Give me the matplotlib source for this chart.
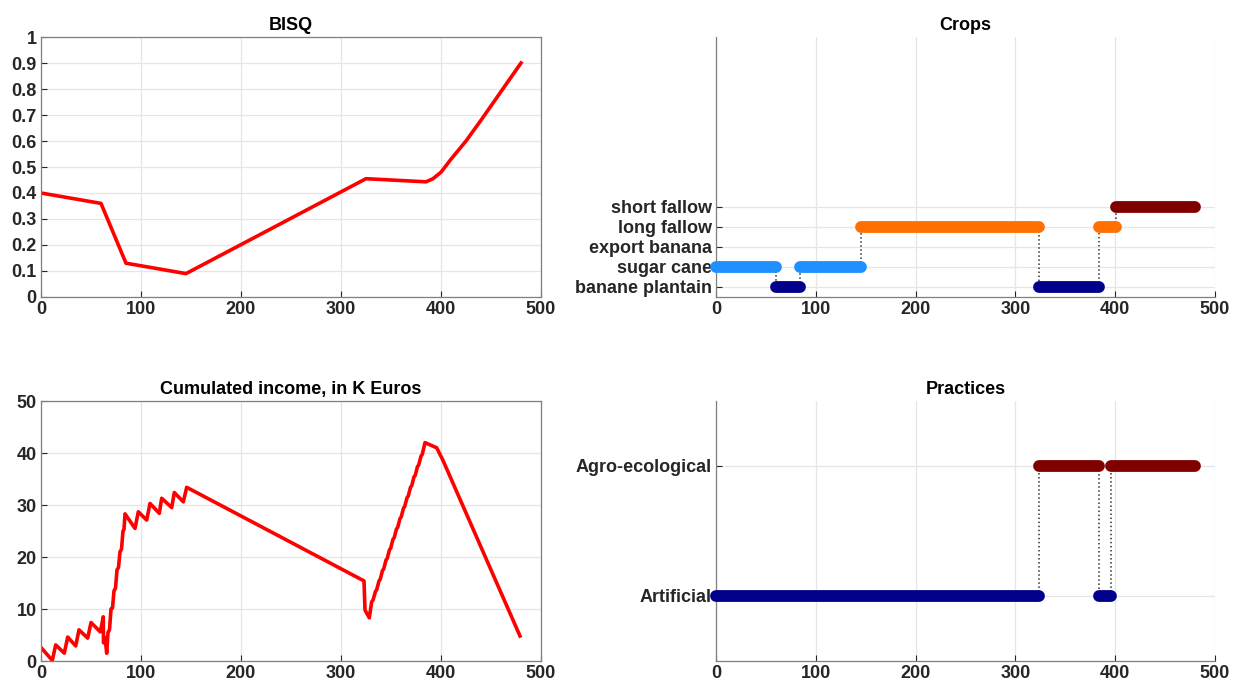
import matplotlib
matplotlib.use("Agg")
from matplotlib import pyplot as plt

plt.rcParams['font.family'] = ['Liberation Sans', 'DejaVu Sans']

# BISQ indicator over time
bisq_t = [0, 60, 85, 145, 325, 385, 392, 400, 410, 425, 440, 460, 480]
bisq_v = [0.40, 0.36, 0.13, 0.09, 0.455, 0.443, 0.455, 0.48, 0.53, 0.60, 0.68, 0.79, 0.90]

# cumulated income (K Euros)
income_t = [0, 11.3, 14.7, 23.3, 26.7, 34.7, 38, 46.7, 50, 59.3, 62.3, 62.5, 64, 65.7,
            67, 68.5, 70, 71.5, 73, 74.5, 76, 77.5, 79, 80.5, 82, 83, 84,
            94, 97.3, 105.7, 109, 118.3, 120.7, 130.7, 133.3, 142.3, 145.7,
            323, 324, 328.3, 330.7, 332, 334.5, 335.7, 338, 339.2, 341.5, 342.7, 345, 346.2,
            348.5, 349.7, 352, 353.2, 355.5, 356.7, 359, 360.2, 362.5, 363.7, 366, 367.2,
            369.5, 370.7, 373, 374.2, 376.5, 377.7, 380, 381.2, 384, 395.7, 401.7, 479]
income_v = [2.6, 0.1, 3.1, 1.5, 4.6, 2.9, 6.0, 4.4, 7.4, 5.6, 8.5, 3.5, 4.5, 1.5,
            5.5, 6.0, 10.0, 10.2, 13.5, 14.0, 17.5, 18.0, 21.0, 21.5, 25.0, 25.3, 28.3,
            25.5, 28.7, 27.1, 30.3, 28.4, 31.3, 29.5, 32.4, 30.6, 33.4,
            15.4, 9.8, 8.3, 11.4, 11.7, 13.4, 13.7, 15.4, 15.7, 17.4, 17.7, 19.4, 19.7,
            21.4, 21.7, 23.4, 23.7, 25.4, 25.7, 27.4, 27.7, 29.4, 29.7, 31.4, 31.7,
            33.4, 33.7, 35.4, 35.7, 37.4, 37.7, 39.4, 39.7, 42.0, 41.0, 38.7, 4.8]

# crops
crop_names = ['banane plantain', 'sugar cane', 'export banana', 'long fallow', 'short fallow']
crop_colors = {'banane plantain': '#00008b', 'sugar cane': '#1e90ff',
               'export banana': '#2ca02c', 'long fallow': '#ff7000',
               'short fallow': '#800000'}
crop_seq = ['sugar cane', 'banane plantain', 'sugar cane', 'long fallow',
            'banane plantain', 'long fallow', 'short fallow']
crop_start = [0, 60, 84, 145, 324, 384, 401]
crop_end = [60, 84, 145, 324, 384, 401, 480]

# practices
practice_names = ['Artificial', 'Agro-ecological']
practice_colors = {'Artificial': '#00008b', 'Agro-ecological': '#800000'}
practice_seq = ['Artificial', 'Agro-ecological', 'Artificial', 'Agro-ecological']
practice_start = [0, 324, 384, 396]
practice_end = [324, 384, 396, 480]

W, H = 1239, 686
fig = plt.figure(figsize=(W / 100, H / 100), dpi=100)
fig.patch.set_facecolor('white')

def rect(x0, y_top, w, h):
    return [x0 / W, (H - y_top - h) / H, w / W, h / H]

ax1 = fig.add_axes(rect(41, 37, 500, 260))
ax2 = fig.add_axes(rect(716, 37, 499, 260))
ax3 = fig.add_axes(rect(41, 401, 500, 260))
ax4 = fig.add_axes(rect(716, 401, 499, 260))

tick_color = '#262626'
grid_color = '#e6e6e6'

def style(ax, boxed):
    ax.set_xlim(0, 500)
    ax.set_xticks([0, 100, 200, 300, 400, 500])
    ax.grid(True, color=grid_color, linewidth=0.9)
    ax.set_axisbelow(True)
    ax.tick_params(direction='in', length=4, width=0.8, color=tick_color,
                   labelsize=13, labelcolor=tick_color, pad=3)
    for lbl in ax.get_xticklabels() + ax.get_yticklabels():
        lbl.set_fontweight('bold')
    for side in ['left', 'bottom', 'top', 'right']:
        ax.spines[side].set_color('#7f7f7f')
        ax.spines[side].set_linewidth(0.9)
    if not boxed:
        ax.spines['top'].set_visible(False)
        ax.spines['right'].set_visible(False)
        ax.tick_params(top=False, right=False)

# BISQ
ax1.plot(bisq_t, bisq_v, color='red', linewidth=2.6)
ax1.set_ylim(0, 1)
ax1.set_yticks([0, 0.1, 0.2, 0.3, 0.4, 0.5, 0.6, 0.7, 0.8, 0.9, 1])
ax1.set_yticklabels(['0', '0.1', '0.2', '0.3', '0.4', '0.5', '0.6', '0.7', '0.8', '0.9', '1'])
ax1.set_title('BISQ', fontsize=13, fontweight='bold', pad=5)
style(ax1, True)

# income
ax3.plot(income_t, income_v, color='red', linewidth=2.6)
ax3.set_ylim(0, 50)
ax3.set_yticks([0, 10, 20, 30, 40, 50])
ax3.set_title('Cumulated income, in K Euros', fontsize=13, fontweight='bold', pad=5)
style(ax3, True)

def draw_states(ax, names, colors, seq, starts, ends):
    ys = [names.index(s) + 1 for s in seq]
    for i in range(1, len(seq)):
        ax.plot([starts[i], starts[i]], [ys[i - 1], ys[i]], linestyle=':',
                color='#303030', linewidth=1.1, zorder=2)
    for s, y, a, b in zip(seq, ys, starts, ends):
        ax.plot([a, b], [y, y], color=colors[s], linewidth=8.5,
                solid_capstyle='round', zorder=3, clip_on=False)

# crops
draw_states(ax2, crop_names, crop_colors, crop_seq, crop_start, crop_end)
ax2.set_ylim(0.5, 13.5)
ax2.set_yticks(range(1, len(crop_names) + 1))
ax2.set_yticklabels(crop_names)
ax2.set_title('Crops', fontsize=13, fontweight='bold', pad=5)
style(ax2, False)

# practices
draw_states(ax4, practice_names, practice_colors, practice_seq, practice_start, practice_end)
ax4.set_ylim(0.5, 2.5)
ax4.set_yticks([1, 2])
ax4.set_yticklabels(practice_names)
ax4.set_title('Practices', fontsize=13, fontweight='bold', pad=5)
style(ax4, False)

fig.savefig('out.png', dpi=100)
